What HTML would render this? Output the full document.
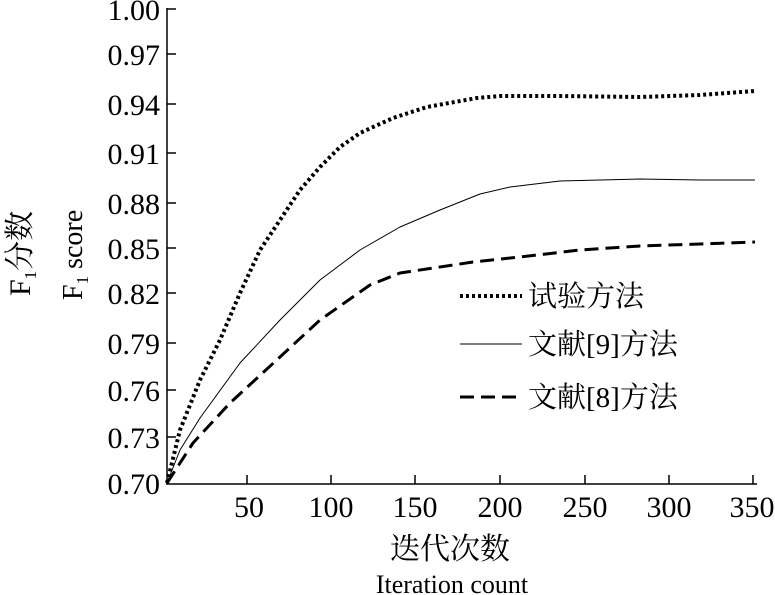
<!DOCTYPE html><html><head><meta charset="utf-8"><style>body{margin:0;background:#fff}svg{display:block}text{font-family:"Liberation Serif","Noto Serif CJK SC",serif;fill:#000}</style></head><body>
<svg width="775" height="595" viewBox="0 0 775 595">
<g stroke="#000" stroke-width="1.5" fill="none">
<line x1="167" y1="8" x2="167" y2="484"/><line x1="166" y1="484" x2="757" y2="484"/>
<path d="M167 9h9M167 54h9M167 104h9M167 153h9M167 203h9M167 248h9M167 293h9M167 343h9M167 390h9M167 437h9"/>
<path d="M247 484v-9M331 484v-9M415 484v-9M500 484v-9M585 484v-9M669 484v-9M753 484v-9"/>
</g>
<g font-size="30" text-anchor="end">
<text x="160" y="20">1.00</text><text x="160" y="65">0.97</text><text x="160" y="115">0.94</text><text x="160" y="164">0.91</text><text x="160" y="214">0.88</text><text x="160" y="259">0.85</text><text x="160" y="304">0.82</text><text x="160" y="354">0.79</text><text x="160" y="401">0.76</text><text x="160" y="448">0.73</text><text x="160" y="494">0.70</text>
</g>
<g font-size="30" text-anchor="middle">
<text x="249" y="517">50</text><text x="331" y="517">100</text><text x="415" y="517">150</text><text x="500" y="517">200</text><text x="585" y="517">250</text><text x="669" y="517">300</text><text x="752" y="517">350</text>
<text x="450" y="559">迭代次数</text>
<text x="452" y="593" font-size="26">Iteration count</text>
</g>
<text transform="translate(30,296) rotate(-90)" font-size="30">F<tspan font-size="17" dy="6">1</tspan><tspan dy="-6">分数</tspan></text>
<text transform="translate(82,300) rotate(-90)" font-size="28">F<tspan font-size="17" dy="6">1</tspan><tspan dy="-6"> score</tspan></text>
<g fill="none" stroke="#000" stroke-linejoin="round">
<polyline stroke-width="4" stroke-dasharray="3,3" points="167,483 180,430 200,380 220,340 240,293 260,250 280,220 300,190 320,167 340,147 360,133 393,118 427,107 477,98 500,96 560,96 640,97 700,95 755,91"/>
<polyline stroke-width="1" points="167,483 180,450 200,418 240,363 280,320 320,280 360,250 400,227 440,210 480,194 510,187 560,181 640,179 700,180 755,180"/>
<polyline stroke-width="3" stroke-dasharray="14,7" points="167,483 193,443 230,403 280,357 320,320 370,285 400,273 473,262 520,257 580,250 640,246 700,244 755,242"/>
<line x1="460" y1="296" x2="522" y2="296" stroke-width="4" stroke-dasharray="3,3"/>
<line x1="460" y1="344" x2="522" y2="344" stroke-width="1"/>
<line x1="460" y1="397" x2="522" y2="397" stroke-width="3" stroke-dasharray="14,7"/>
</g>
<g font-size="29"><text x="528" y="306">试验方法</text><text x="528" y="354">文献[9]方法</text><text x="528" y="407">文献[8]方法</text></g>
</svg></body></html>
